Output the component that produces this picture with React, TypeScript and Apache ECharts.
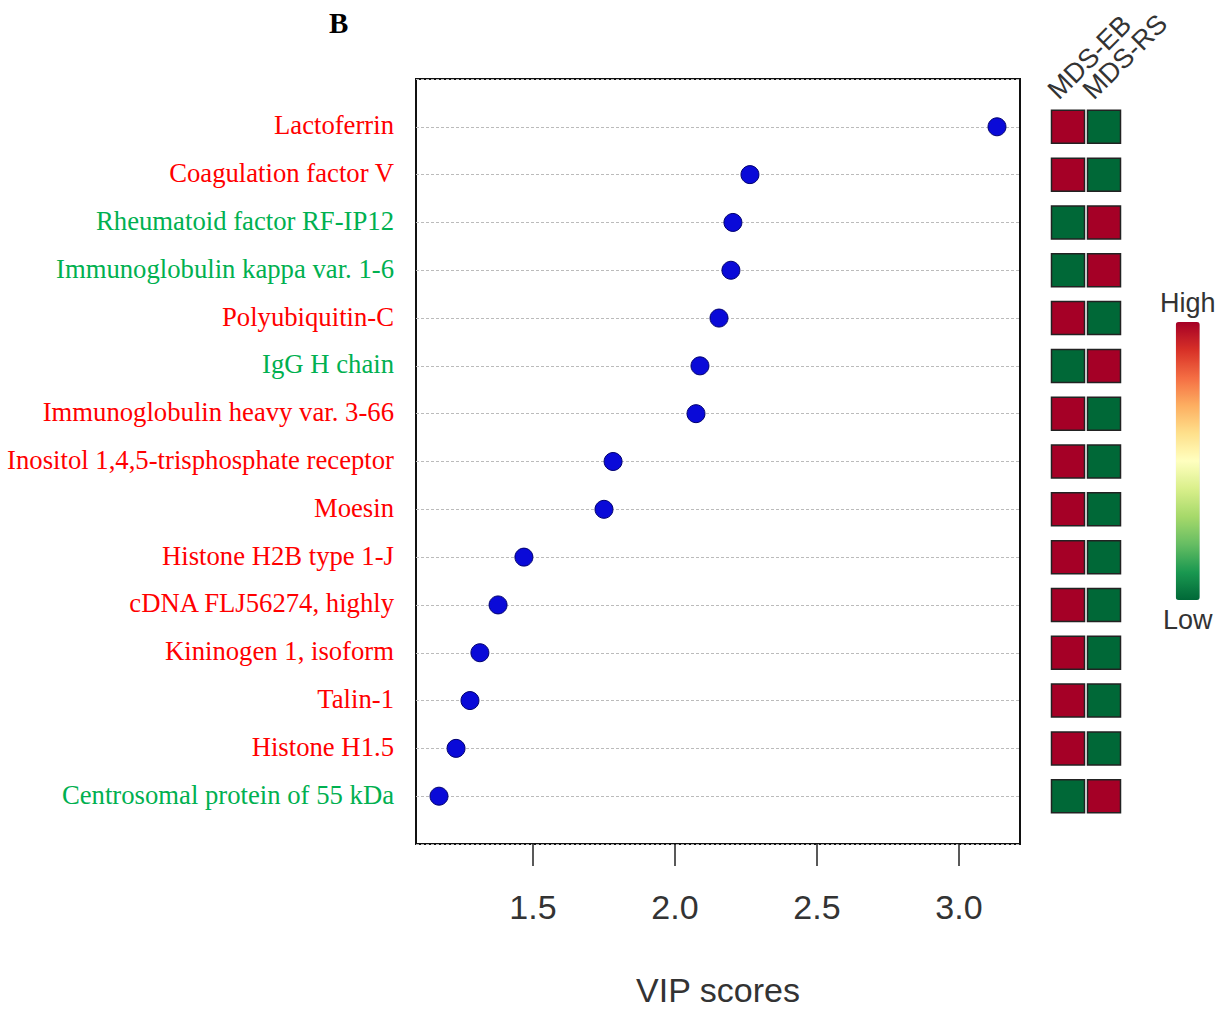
import React, { useEffect, useRef } from "react";
import * as echarts from "echarts";

const proteins = [
  "Lactoferrin",
  "Coagulation factor V",
  "Rheumatoid factor RF-IP12",
  "Immunoglobulin kappa var. 1-6",
  "Polyubiquitin-C",
  "IgG H chain",
  "Immunoglobulin heavy var. 3-66",
  "Inositol 1,4,5-trisphosphate receptor",
  "Moesin",
  "Histone H2B type 1-J",
  "cDNA FLJ56274, highly",
  "Kininogen 1, isoform",
  "Talin-1",
  "Histone H1.5",
  "Centrosomal protein of 55 kDa",
];
const vipScores = [3.134, 2.264, 2.204, 2.197, 2.155, 2.088, 2.074, 1.782, 1.75, 1.468, 1.377, 1.313, 1.278, 1.229, 1.169];
const labelColorKey = ["r", "r", "g", "g", "r", "g", "r", "r", "r", "r", "r", "r", "r", "r", "g"];
const groups = ["MDS-EB", "MDS-RS"];
// 1 = high, 0 = low
const mdsEB = [1, 1, 0, 0, 1, 0, 1, 1, 1, 1, 1, 1, 1, 1, 0];
const mdsRS = [0, 0, 1, 1, 0, 1, 0, 0, 0, 0, 0, 0, 0, 0, 1];
const xTicks = [1.5, 2.0, 2.5, 3.0];

export default function App() {
  const ref = useRef<HTMLDivElement>(null);
  useEffect(() => {
    if (!ref.current) return;
    const chart = echarts.init(ref.current, undefined, { renderer: "svg" });
    const heat: number[][] = [];
    proteins.forEach((_, i) => {
      heat.push([0.5, i, mdsEB[i]]);
      heat.push([1.5, i, mdsRS[i]]);
    });
    chart.setOption({
      animation: false,
      backgroundColor: "#fff",
      grid: [
        { left: 416, top: 79, width: 604, height: 765, show: true, borderColor: "#111", borderWidth: 2, containLabel: false, outerBoundsMode: "none" },
        { left: 1050, top: 79, width: 72, height: 765, containLabel: false, outerBoundsMode: "none" },
      ],
      xAxis: [
        {
          type: "value",
          gridIndex: 0,
          min: 1.088,
          max: 3.215,
          interval: 0.5,
          axisLine: { show: false, onZero: false },
          axisTick: { show: true, length: 22, lineStyle: { color: "#222", width: 1.5 }, customValues: xTicks },
          axisLabel: {
            customValues: xTicks,
            formatter: (v: number) => v.toFixed(1),
            fontSize: 34,
            fontFamily: "Liberation Sans",
            color: "#333",
            margin: 46,
          },
          splitLine: { show: false },
          name: "VIP scores",
          nameLocation: "middle",
          nameGap: 129,
          nameTextStyle: { fontSize: 34, fontFamily: "Liberation Sans", color: "#333" },
        },
        {
          type: "value",
          gridIndex: 1,
          min: 0,
          max: 2,
          show: false,
          axisLine: { onZero: false },
        },
      ],
      yAxis: [
        {
          type: "value",
          gridIndex: 0,
          min: -1,
          max: 15,
          interval: 1,
          inverse: true,
          axisLine: { show: false, onZero: false },
          axisTick: { show: false },
          splitLine: { show: true, lineStyle: { type: [3, 2], color: "#bbb", width: 1 } },
          axisLabel: {
            margin: 22,
            formatter: (v: number) => {
              const i = Math.round(v);
              if (i < 0 || i >= proteins.length) return "";
              return `{${labelColorKey[i]}|${proteins[i]}}`;
            },
            rich: {
              r: { color: "#ff0000", fontSize: 26.7, fontFamily: "Liberation Serif", padding: [0, 0, 3, 0] },
              g: { color: "#00b050", fontSize: 26.7, fontFamily: "Liberation Serif", padding: [0, 0, 3, 0] },
            },
          },
        },
        {
          type: "value",
          gridIndex: 1,
          min: -1,
          max: 15,
          inverse: true,
          show: false,
          axisLine: { onZero: false },
        },
      ],
      visualMap: {
        type: "continuous",
        seriesIndex: 1,
        min: 0,
        max: 1,
        calculable: false,
        orient: "vertical",
        left: 1145,
        top: 274,
        itemWidth: 24,
        itemHeight: 278,
        text: ["High", "Low"],
        textGap: 6,
        textStyle: { fontSize: 27, fontFamily: "Liberation Sans", color: "#333" },
        inRange: {
          color: ["#006837", "#1a9850", "#66bd63", "#a6d96a", "#d9ef8b", "#ffffbf", "#fee08b", "#fdae61", "#f46d43", "#d73027", "#a50026"],
        },
      },
      graphic: [
        {
          type: "text",
          left: 329,
          top: 8,
          style: { text: "B", fontSize: 29, fontWeight: "bold", fontFamily: "Liberation Serif", fill: "#000" },
        },
        ...groups.map((g, k) => ({
          type: "text",
          x: 1062 + k * 35,
          y: 104,
          rotation: Math.PI / 4,
          style: {
            text: g,
            fontSize: 27,
            fontFamily: "Liberation Sans",
            fill: "#333",
            textAlign: "left",
            textVerticalAlign: "bottom",
          },
        })),
      ],
      series: [
        {
          type: "scatter",
          xAxisIndex: 0,
          yAxisIndex: 0,
          symbolSize: 18,
          itemStyle: { color: "#0a0ad8", borderColor: "#00006e", borderWidth: 1, opacity: 1 },
          data: vipScores.map((v, i) => [v, i]),
          z: 5,
        },
        {
          type: "scatter",
          xAxisIndex: 1,
          yAxisIndex: 1,
          symbol: "rect",
          symbolSize: [33, 33],
          itemStyle: { borderColor: "#222", borderWidth: 1.5, opacity: 1 },
          data: heat,
        },
      ],
    });
    return () => chart.dispose();
  }, []);
  return <div ref={ref} style={{ position: "absolute", left: 0, top: 0, width: 1223, height: 1009 }} />;
}
